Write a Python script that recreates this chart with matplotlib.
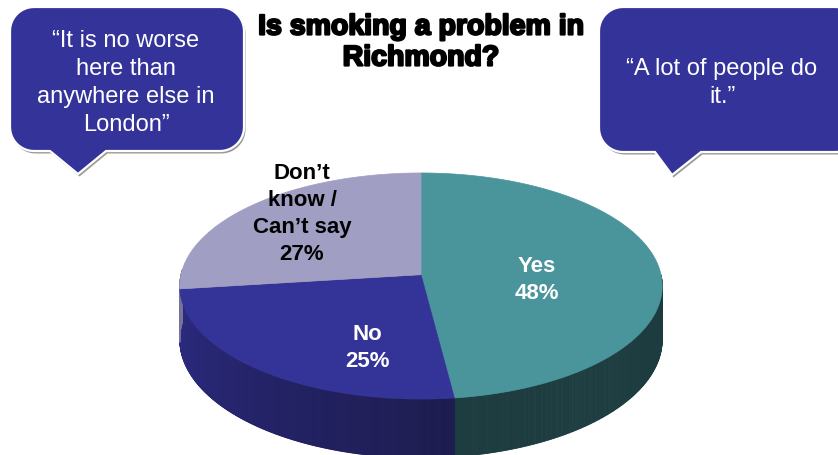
import numpy as np
import matplotlib
matplotlib.use("Agg")
import matplotlib.pyplot as plt
from matplotlib.patches import Polygon
import matplotlib.patheffects as pe

# ---- data ----
categories = ["Yes", "No", "Don’t\nknow /\nCan’t say"]
values = [48, 25, 27]
top_colors = ["#4a949b", "#343397", "#a09fc3"]
side_light = ["#22494c", "#2d2c86", "#75749a"]
side_dark = ["#1b383c", "#1d1c50", "#5e5d80"]
label_colors = ["white", "white", "black"]
title = "Is smoking a problem in\nRichmond?"
quote_left = "“It is no worse\nhere than\nanywhere else in\nLondon”"
quote_right = "“A lot of people do\nit.”"

plt.rcParams['font.family'] = ['Liberation Sans', 'DejaVu Sans']

W, H = 838, 456
fig = plt.figure(figsize=(W / 100, H / 100), dpi=100)
ax = fig.add_axes([0, 0, 1, 1])
ax.set_xlim(0, W)
ax.set_ylim(H, 0)
ax.axis('off')

# pie geometry (pixel units) with a simple perspective
cx, cy, a, b, depth, k = 421, 275.7, 240, 111.9, 53, 0.1


def pt(t, dy=0.0):
    s = 1.0 / (1.0 + k * np.sin(t))
    return (cx + a * np.cos(t) * s, cy - b * np.sin(t) * s + dy * s)


def mix(c1, c2, f):
    c1 = np.array(matplotlib.colors.to_rgb(c1))
    c2 = np.array(matplotlib.colors.to_rgb(c2))
    return tuple(c1 * (1 - f) + c2 * f)


# slice angles (start at 12 o'clock, clockwise)
starts, ends = [], []
ang = 90.0
for v in values:
    starts.append(ang)
    ang -= 360.0 * v / sum(values)
    ends.append(ang)

# side walls (visible front half)
for i in range(len(values)):
    s, e = np.radians(starts[i]), np.radians(ends[i])
    ts = np.linspace(e, s, 400)
    for kk in range(len(ts) - 1):
        t0, t1 = ts[kk], ts[kk + 1]
        m = np.mod((t0 + t1) / 2, 2 * np.pi)
        if not (np.pi - 0.05 <= m <= 2 * np.pi + 0.05):
            continue
        f = np.clip((m - np.pi) / np.pi, 0, 1)
        if i == 0:
            col = mix(side_dark[i], side_light[i], 0.3 * (1 - abs(f - 0.75) / 0.75))
        else:
            col = mix(side_light[i], side_dark[i], min(1, f * 1.9))
        quad = [pt(t0), pt(t1), pt(t1, depth), pt(t0, depth)]
        ax.add_patch(Polygon(quad, closed=True, facecolor=col, edgecolor=col,
                             linewidth=0.6, zorder=2))

# top faces
for i in range(len(values)):
    ts = np.radians(np.linspace(starts[i], ends[i], 200))
    verts = [(cx, cy)] + [pt(t) for t in ts]
    ax.add_patch(Polygon(verts, closed=True, facecolor=top_colors[i],
                         edgecolor=top_colors[i], linewidth=0.5, zorder=3))

# labels
label_pos = [(537, 280), (367, 348), (302, 214)]
for i in range(len(values)):
    ax.text(label_pos[i][0], label_pos[i][1], f"{categories[i]}\n{values[i]}%",
            ha='center', va='center', fontsize=16, fontweight='bold',
            color=label_colors[i], linespacing=1.38, zorder=5)

# title
ax.text(421, 44, title, ha='center', va='center', fontsize=20.5,
        fontweight='bold', color='black', linespacing=1.25, zorder=5,
        path_effects=[pe.withStroke(linewidth=1.6, foreground='black')])


def bubble(x0, y0, x1, y1, r, tail):
    pts = []

    def arc(xc, yc, a0, a1):
        for t in np.radians(np.linspace(a0, a1, 14)):
            pts.append((xc + r * np.cos(t), yc + r * np.sin(t)))
    arc(x0 + r, y0 + r, 180, 270)       # top-left
    arc(x1 - r, y0 + r, 270, 360)       # top-right
    arc(x1 - r, y1 - r, 0, 90)          # bottom-right
    (lx, rx, tipx, tipy) = tail
    pts.append((rx, y1))
    pts.append((tipx, tipy))
    pts.append((lx, y1))
    arc(x0 + r, y1 - r, 90, 180)        # bottom-left
    return pts


for (x0, y0, x1, y1, tail) in [(10, 8, 244, 152, (50, 106, 78, 175)),
                               (599, 8, 860, 153, (655, 701, 672, 176))]:
    pts = bubble(x0, y0, x1, y1, 24, tail)
    shadow = [(x + 1.5, y + 2.5) for x, y in pts]
    ax.add_patch(Polygon(shadow, closed=True, facecolor='#9a9a9a',
                         edgecolor='none', zorder=6))
    ax.add_patch(Polygon(pts, closed=True, facecolor='#333399',
                         edgecolor='white', linewidth=1.6, zorder=7))

ax.text(126, 83, quote_left, ha='center', va='center', fontsize=17,
        color='white', linespacing=1.36, zorder=8)
ax.text(722, 83, quote_right, ha='center', va='center', fontsize=17,
        color='white', linespacing=1.36, zorder=8)

fig.savefig("out.png", dpi=100)
